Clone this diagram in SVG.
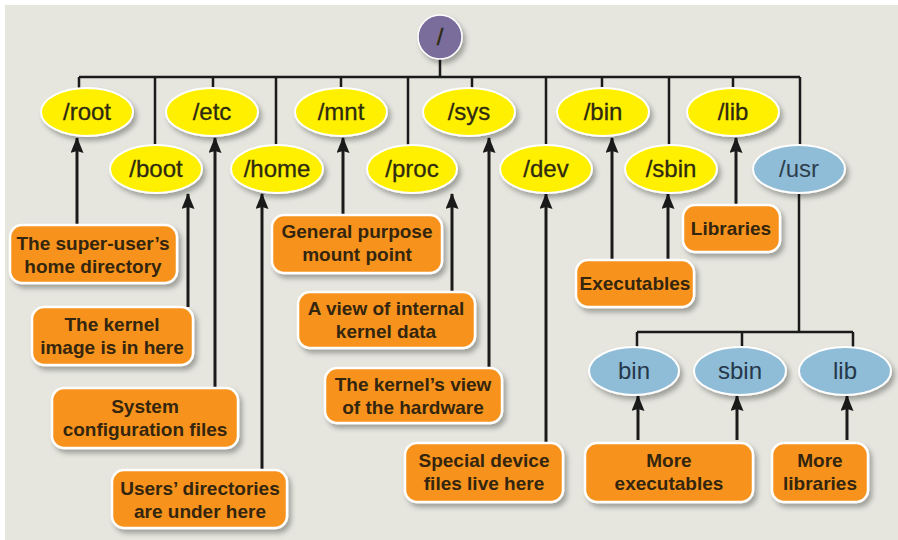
<svg xmlns="http://www.w3.org/2000/svg" width="898" height="540" viewBox="0 0 898 540">
<defs>
<filter id="sh" x="-20%" y="-20%" width="150%" height="160%">
<feDropShadow dx="3" dy="4" stdDeviation="2.5" flood-color="#000" flood-opacity="0.3"/>
</filter>
<marker id="ah" viewBox="0 0 16 13" refX="15" refY="6.5" markerWidth="16" markerHeight="13" orient="auto" markerUnits="userSpaceOnUse">
<path d="M0,0 L16,6.5 L0,13 L2,6.5 Z" fill="#1a1a1a"/>
</marker>
<style>
.bg{fill:#e6e6df}
.yel{fill:#fff000;stroke:#fff;stroke-width:2;filter:url(#sh)}
.blu{fill:#8fbcd6;stroke:#fff;stroke-width:2;filter:url(#sh)}
.org{fill:#f7931e;stroke:#fff;stroke-width:2.5;filter:url(#sh)}
.et{font-family:"Liberation Sans",Arial,sans-serif;font-size:24px;fill:#2e2a10;text-anchor:middle;stroke:#2e2a10;stroke-width:0.3}
.bt{font-family:"Liberation Sans",Arial,sans-serif;font-size:24px;fill:#24384a;text-anchor:middle}
.lt{font-family:"Liberation Sans",Arial,sans-serif;font-size:19px;font-weight:bold;fill:#33250e;text-anchor:middle}
.ln{fill:none;stroke:#1a1a1a;stroke-width:2.5}
.ar{fill:none;stroke:#1a1a1a;stroke-width:3;marker-end:url(#ah)}
</style>
</defs>
<rect class="bg" x="5" y="5" width="893" height="535"/>

<g id="connectors">
<path class="ln" d="M440,58 V77 M79,77 H800 M79,77 V89 M155,77 V146 M213,77 V89 M276,77 V148 M341,77 V89 M408,77 V146 M472,77 V89 M546,77 V146 M602,77 V89 M669,77 V146 M733,77 V89 M800,77 V146"/>
<path class="ln" d="M799,193 V332 M637,332 H853 M637,332 V348 M742,332 V348 M853,332 V348"/>
<path class="ar" d="M77,225 V138"/>
<path class="ar" d="M188,307 V194"/>
<path class="ar" d="M215,388 V138"/>
<path class="ar" d="M262,470 V194"/>
<path class="ar" d="M343,215 V138"/>
<path class="ar" d="M452,292 V194"/>
<path class="ar" d="M489,368 V138"/>
<path class="ar" d="M546,443 V194"/>
<path class="ar" d="M612,260 V138"/>
<path class="ar" d="M668,260 V194"/>
<path class="ar" d="M736,205 V138"/>
<path class="ar" d="M638,440 V396"/>
<path class="ar" d="M737,440 V396"/>
<path class="ar" d="M847,440 V396"/>
</g>

<g id="n-root"><circle cx="440" cy="37" r="22" fill="#7a6d9c" stroke="#fff" stroke-width="1.5" filter="url(#sh)"/><text class="et" x="440" y="45">/</text></g>

<g id="n-slashroot"><ellipse class="yel" cx="87" cy="112" rx="46" ry="24"/><text class="et" x="87" y="120">/root</text></g>
<g id="n-etc"><ellipse class="yel" cx="212" cy="112" rx="46" ry="24"/><text class="et" x="212" y="120">/etc</text></g>
<g id="n-mnt"><ellipse class="yel" cx="341" cy="112" rx="46" ry="24"/><text class="et" x="341" y="120">/mnt</text></g>
<g id="n-sys"><ellipse class="yel" cx="469" cy="112" rx="46" ry="24"/><text class="et" x="469" y="120">/sys</text></g>
<g id="n-bin"><ellipse class="yel" cx="603" cy="112" rx="46" ry="24"/><text class="et" x="603" y="120">/bin</text></g>
<g id="n-lib"><ellipse class="yel" cx="733" cy="112" rx="46" ry="24"/><text class="et" x="733" y="120">/lib</text></g>

<g id="n-boot"><ellipse class="yel" cx="156" cy="169" rx="46" ry="24"/><text class="et" x="156" y="177">/boot</text></g>
<g id="n-home"><ellipse class="yel" cx="277" cy="169" rx="46" ry="24"/><text class="et" x="277" y="177">/home</text></g>
<g id="n-proc"><ellipse class="yel" cx="412" cy="169" rx="45" ry="24"/><text class="et" x="412" y="177">/proc</text></g>
<g id="n-dev"><ellipse class="yel" cx="546" cy="169" rx="46" ry="24"/><text class="et" x="546" y="177">/dev</text></g>
<g id="n-sbin"><ellipse class="yel" cx="671" cy="169" rx="46" ry="24"/><text class="et" x="671" y="177">/sbin</text></g>
<g id="n-usr"><ellipse class="blu" cx="799" cy="169" rx="46" ry="24"/><text class="bt" x="799" y="177" style="fill:#2e3e4e">/usr</text></g>

<g id="n-ubin"><ellipse class="blu" cx="634" cy="371" rx="45" ry="24"/><text class="bt" x="634" y="379">bin</text></g>
<g id="n-usbin"><ellipse class="blu" cx="740" cy="371" rx="46" ry="24"/><text class="bt" x="740" y="379">sbin</text></g>
<g id="n-ulib"><ellipse class="blu" cx="845" cy="371" rx="46" ry="24"/><text class="bt" x="845" y="379">lib</text></g>

<g id="l-root"><rect class="org" x="10" y="225" width="167" height="58" rx="12"/><text class="lt" x="93" y="250">The super-user’s</text><text class="lt" x="93" y="273">home directory</text></g>
<g id="l-boot"><rect class="org" x="32" y="307" width="161" height="58" rx="12"/><text class="lt" x="112" y="331">The kernel</text><text class="lt" x="112" y="354">image is in here</text></g>
<g id="l-etc"><rect class="org" x="52" y="388" width="186" height="60" rx="12"/><text class="lt" x="145" y="413">System</text><text class="lt" x="145" y="436">configuration files</text></g>
<g id="l-home"><rect class="org" x="112" y="470" width="175" height="58" rx="12"/><text class="lt" x="200" y="495">Users’ directories</text><text class="lt" x="200" y="518">are under here</text></g>
<g id="l-mnt"><rect class="org" x="272" y="215" width="170" height="58" rx="12"/><text class="lt" x="357" y="238">General purpose</text><text class="lt" x="357" y="261">mount point</text></g>
<g id="l-proc"><rect class="org" x="298" y="292" width="177" height="56" rx="12"/><text class="lt" x="386" y="315">A view of internal</text><text class="lt" x="386" y="338">kernel data</text></g>
<g id="l-sys"><rect class="org" x="325" y="368" width="177" height="55" rx="12"/><text class="lt" x="413" y="391">The kernel’s view</text><text class="lt" x="413" y="414">of the hardware</text></g>
<g id="l-dev"><rect class="org" x="405" y="443" width="158" height="59" rx="12"/><text class="lt" x="484" y="467">Special device</text><text class="lt" x="484" y="490">files live here</text></g>
<g id="l-bin"><rect class="org" x="576" y="260" width="118" height="47" rx="12"/><text class="lt" x="635" y="290">Executables</text></g>
<g id="l-lib"><rect class="org" x="683" y="205" width="97" height="47" rx="12"/><text class="lt" x="731" y="235">Libraries</text></g>
<g id="l-ubin"><rect class="org" x="585" y="443" width="168" height="59" rx="12"/><text class="lt" x="669" y="467">More</text><text class="lt" x="669" y="490">executables</text></g>
<g id="l-ulib"><rect class="org" x="772" y="443" width="96" height="59" rx="12"/><text class="lt" x="820" y="467">More</text><text class="lt" x="820" y="490">libraries</text></g>
</svg>
